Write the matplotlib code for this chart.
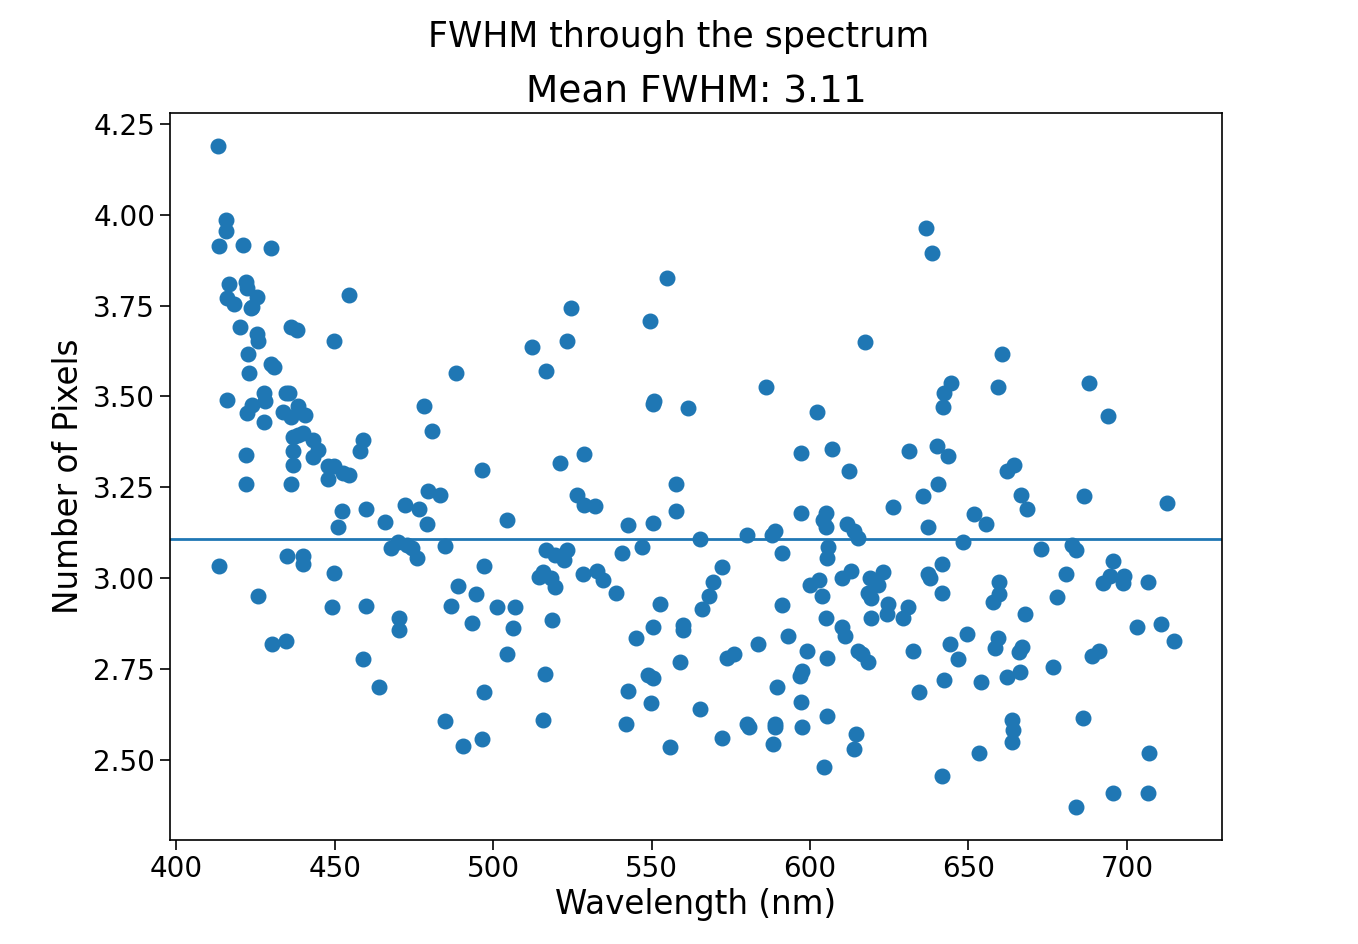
import numpy as np
import matplotlib
matplotlib.use("Agg")
import matplotlib.pyplot as plt

# wavelength (nm) and FWHM (pixels) of each fitted line
wl_blue = [413.0, 415.8, 415.8, 413.3, 421.1, 430.0, 416.7, 422.0, 422.4, 425.3,
           416.1, 418.3, 423.4, 424.0, 454.5, 420.2, 425.3, 425.9, 436.3, 438.2,
           449.9, 422.7, 430.0, 430.9, 423.0, 416.1, 424.0, 427.5, 428.1, 422.4,
           427.8, 434.7, 435.4, 433.5, 436.3, 438.5, 440.7, 436.9, 438.5, 440.1,
           443.2, 444.8, 443.2, 436.9, 436.9, 422.1, 448.0, 449.6, 447.7, 452.7,
           454.5, 422.1, 436.3, 452.4, 451.1, 435.0, 440.1, 440.1, 413.3, 449.6,
           425.9, 449.2, 430.3, 434.7]
fwhm_blue = [4.188, 3.985, 3.954, 3.913, 3.916, 3.907, 3.810, 3.814, 3.798, 3.773,
             3.770, 3.754, 3.743, 3.745, 3.780, 3.690, 3.671, 3.652, 3.690, 3.682,
             3.652, 3.616, 3.589, 3.580, 3.564, 3.490, 3.476, 3.509, 3.487, 3.454,
             3.430, 3.509, 3.509, 3.457, 3.443, 3.473, 3.448, 3.388, 3.393, 3.399,
             3.380, 3.352, 3.333, 3.349, 3.310, 3.340, 3.308, 3.308, 3.272, 3.289,
             3.284, 3.260, 3.260, 3.184, 3.140, 3.060, 3.060, 3.040, 3.033, 3.013,
             2.950, 2.920, 2.820, 2.827]

wl_green = [488.4, 478.0, 480.8, 459.0, 458.0, 496.6, 479.5, 483.3, 460.0, 472.3,
            476.7, 466.0, 479.2, 504.5, 467.6, 470.0, 472.9, 474.5, 475.8, 484.9,
            497.2, 489.0, 494.7, 460.0, 486.8, 501.3, 507.0, 470.4, 470.4, 493.4,
            506.4, 504.5, 459.0, 463.8, 497.2, 484.9, 496.6, 490.6,
            555.0, 524.7, 549.6, 523.4, 512.1, 516.8, 550.3, 550.9, 561.6, 521.2,
            528.5, 557.8, 526.6, 528.8, 532.0, 557.8, 542.4, 550.3, 516.8, 519.6,
            523.4, 522.2, 540.5, 547.1, 514.3, 515.8, 518.1, 519.6, 528.2, 532.9,
            534.8, 538.9, 518.7, 552.8, 550.3, 545.2, 560.0, 560.0, 558.8, 516.2,
            549.0, 550.3, 542.4, 549.9, 515.8, 542.0, 555.9]
fwhm_green = [3.564, 3.473, 3.404, 3.380, 3.350, 3.297, 3.240, 3.228, 3.190, 3.200,
              3.190, 3.154, 3.150, 3.160, 3.083, 3.100, 3.090, 3.083, 3.055, 3.088,
              3.033, 2.978, 2.956, 2.923, 2.923, 2.920, 2.920, 2.890, 2.857, 2.876,
              2.862, 2.790, 2.777, 2.700, 2.686, 2.607, 2.557, 2.538,
              3.825, 3.743, 3.707, 3.652, 3.635, 3.569, 3.480, 3.487, 3.467, 3.316,
              3.341, 3.260, 3.228, 3.200, 3.198, 3.184, 3.146, 3.151, 3.077, 3.063,
              3.077, 3.050, 3.070, 3.085, 3.003, 3.016, 3.000, 2.975, 3.010, 3.020,
              2.995, 2.960, 2.884, 2.930, 2.865, 2.835, 2.870, 2.857, 2.770, 2.736,
              2.733, 2.725, 2.690, 2.656, 2.610, 2.600, 2.535]

wl_red = [617.5, 586.2, 602.3, 597.0, 606.8, 612.4, 565.4, 597.3, 580.2, 588.8,
          588.1, 604.9, 604.2, 604.9, 611.8, 614.0, 615.0, 591.3, 605.8, 605.5,
          572.3, 569.5, 568.2, 566.0, 600.1, 602.7, 603.9, 610.2, 612.8, 618.8,
          618.4, 619.4, 619.4, 591.3, 604.9, 610.0, 610.9, 593.2, 583.7, 576.1,
          573.9, 599.2, 605.5, 615.3, 616.5, 618.4, 597.6, 596.7, 589.7, 597.3,
          565.4, 605.2, 580.2, 580.6, 589.1, 589.1, 597.6, 572.3, 588.4, 614.6,
          614.0, 604.5,
          636.7, 638.6, 660.7, 644.6, 642.4, 642.1, 659.2, 631.1, 640.2, 643.4,
          662.3, 664.5, 640.5, 635.8, 626.3, 666.7, 668.6, 651.6, 655.7, 637.1,
          648.4, 673.0, 622.9, 621.6, 624.7, 624.4, 641.8, 637.1, 638.0, 641.8,
          631.0, 629.5, 659.8, 659.5, 657.9, 667.7, 649.4, 644.3, 632.6, 646.8,
          659.2, 658.5, 667.0, 666.1, 676.8, 642.4, 654.1, 662.3, 666.4, 634.5,
          663.6, 664.2, 663.9, 653.2, 641.8,
          687.9, 694.2, 686.6, 712.8, 682.8, 683.8, 695.5, 680.9, 692.6, 694.8,
          699.2, 698.9, 706.8, 678.1, 703.3, 710.9, 715.0, 689.1, 691.3, 686.3,
          707.1, 695.5, 706.8, 683.8]
fwhm_red = [3.650, 3.525, 3.457, 3.344, 3.355, 3.294, 3.107, 3.180, 3.120, 3.130,
            3.120, 3.180, 3.160, 3.140, 3.150, 3.130, 3.110, 3.070, 3.085, 3.055,
            3.030, 2.990, 2.950, 2.915, 2.980, 2.995, 2.950, 3.000, 3.020, 3.000,
            2.960, 2.945, 2.890, 2.925, 2.890, 2.865, 2.840, 2.840, 2.820, 2.790,
            2.780, 2.800, 2.780, 2.800, 2.790, 2.770, 2.745, 2.730, 2.700, 2.660,
            2.640, 2.620, 2.600, 2.590, 2.600, 2.590, 2.590, 2.560, 2.545, 2.570,
            2.530, 2.480,
            3.963, 3.894, 3.616, 3.536, 3.509, 3.470, 3.525, 3.350, 3.363, 3.335,
            3.294, 3.310, 3.260, 3.226, 3.195, 3.230, 3.190, 3.176, 3.150, 3.140,
            3.099, 3.080, 3.017, 2.980, 2.930, 2.900, 3.040, 3.010, 3.000, 2.960,
            2.920, 2.890, 2.990, 2.956, 2.934, 2.900, 2.846, 2.820, 2.800, 2.777,
            2.835, 2.807, 2.810, 2.797, 2.755, 2.720, 2.714, 2.728, 2.742, 2.686,
            2.610, 2.582, 2.550, 2.520, 2.455,
            3.536, 3.446, 3.225, 3.206, 3.090, 3.077, 3.047, 3.010, 2.986, 3.005,
            3.005, 2.986, 2.990, 2.948, 2.865, 2.874, 2.827, 2.786, 2.800, 2.615,
            2.520, 2.410, 2.410, 2.370]

wavelength = np.array(wl_blue + wl_green + wl_red)
fwhm = np.array(fwhm_blue + fwhm_green + fwhm_red)
mean_fwhm = fwhm.mean()

fig = plt.figure(figsize=(13.58, 9.44), dpi=100)
ax = fig.add_subplot(111)
ax.scatter(wavelength, fwhm, s=110, color="C0")
ax.axhline(mean_fwhm, color="C0", linewidth=2.0)

fig.suptitle("FWHM through the spectrum", fontsize=25, y=0.979)
ax.set_title(f"Mean FWHM: {mean_fwhm:.2f}", fontsize=27, pad=8)
ax.set_xlabel("Wavelength (nm)", fontsize=23.5)
ax.set_ylabel("Number of Pixels", fontsize=23.5, labelpad=6)
ax.tick_params(labelsize=20, length=7, width=1.2)
for sp in ax.spines.values():
    sp.set_linewidth(1.2)

fig.savefig("out.png", dpi=100)
